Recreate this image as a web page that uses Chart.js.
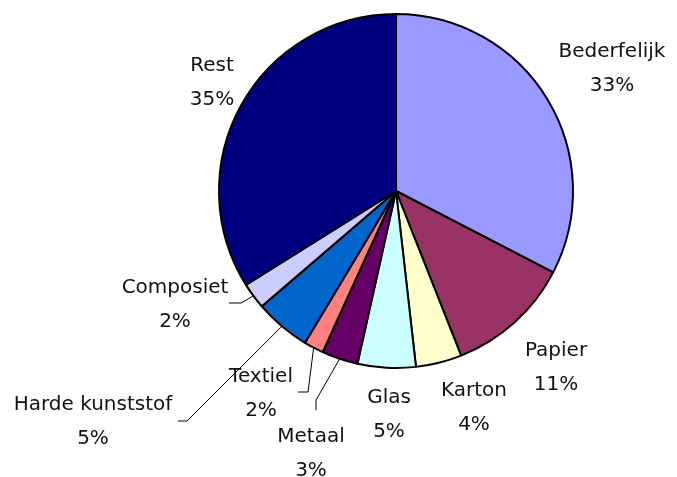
<!DOCTYPE html>
<html lang="nl">
  <head>
    <meta charset="UTF-8" />
    <script src="https://cdn.jsdelivr.net/npm/chart.js"></script>
    <title>Afval samenstelling</title>
  </head>
  <body style="margin: 0; background: #fff">
    <div style="width: 677px; height: 477px">
      <canvas id="pie"></canvas>
    </div>
    <script>
      const categories = ['Bederfelijk', 'Papier', 'Karton', 'Glas', 'Metaal', 'Textiel', 'Harde kunststof', 'Composiet', 'Rest'];
      const shares = [32.6, 11.4, 4.2, 5.3, 3.3, 1.8, 5.1, 2.4, 33.9];
      const percentLabels = ['33%', '11%', '4%', '5%', '3%', '2%', '5%', '2%', '35%'];
      const colors = ['#9999FF', '#993366', '#FFFFCC', '#CCFFFF', '#660066', '#FF8080', '#0066CC', '#CCCCFF', '#000080'];

      // label placement relative to pie centre; leader = [end, elbow] for the small slices
      const placement = [
        { dx: 216, dy: -139 },
        { dx: 160, dy: 160 },
        { dx: 78, dy: 200 },
        { dx: -7, dy: 207 },
        { dx: -85, dy: 246, leader: [[-80, 219], [-80, 209]] },
        { dx: -135, dy: 186, leader: [[-98, 201], [-88, 201]] },
        { dx: -303, dy: 214, leader: [[-218, 230], [-209, 230]] },
        { dx: -221, dy: 97, leader: [[-167, 112], [-155, 112]] },
        { dx: -184, dy: -125 }
      ];

      const outsideLabels = {
        id: 'outsideLabels',
        afterDraw(chart) {
          const ctx = chart.ctx;
          const arcs = chart.getDatasetMeta(0).data;
          ctx.save();
          arcs.forEach((arc, i) => {
            const { x, y, startAngle, endAngle, outerRadius } = arc.getProps(['x', 'y', 'startAngle', 'endAngle', 'outerRadius'], true);
            const p = placement[i];
            if (p.leader) {
              const mid = (startAngle + endAngle) / 2;
              ctx.beginPath();
              ctx.strokeStyle = '#000';
              ctx.lineWidth = 1;
              ctx.moveTo(x + p.leader[0][0], y + p.leader[0][1]);
              ctx.lineTo(x + p.leader[1][0], y + p.leader[1][1]);
              ctx.lineTo(x + Math.cos(mid) * outerRadius, y + Math.sin(mid) * outerRadius);
              ctx.stroke();
            }
            ctx.fillStyle = '#111';
            ctx.font = '20px "DejaVu Sans"';
            ctx.textAlign = 'center';
            ctx.textBaseline = 'middle';
            ctx.fillText(categories[i], x + p.dx, y + p.dy);
            ctx.fillText(percentLabels[i], x + p.dx, y + p.dy + 34);
          });
          ctx.restore();
        }
      };

      new Chart(document.getElementById('pie'), {
        type: 'pie',
        data: {
          labels: categories,
          datasets: [{
            data: shares,
            backgroundColor: colors,
            borderColor: '#000',
            borderWidth: 2,
            radius: 177
          }]
        },
        options: {
          responsive: true,
          maintainAspectRatio: false,
          animation: false,
          layout: { padding: { left: 115, right: 0, top: 0, bottom: 95 } },
          plugins: {
            legend: { display: false },
            tooltip: { enabled: false }
          }
        },
        plugins: [outsideLabels]
      });
    </script>
  </body>
</html>
